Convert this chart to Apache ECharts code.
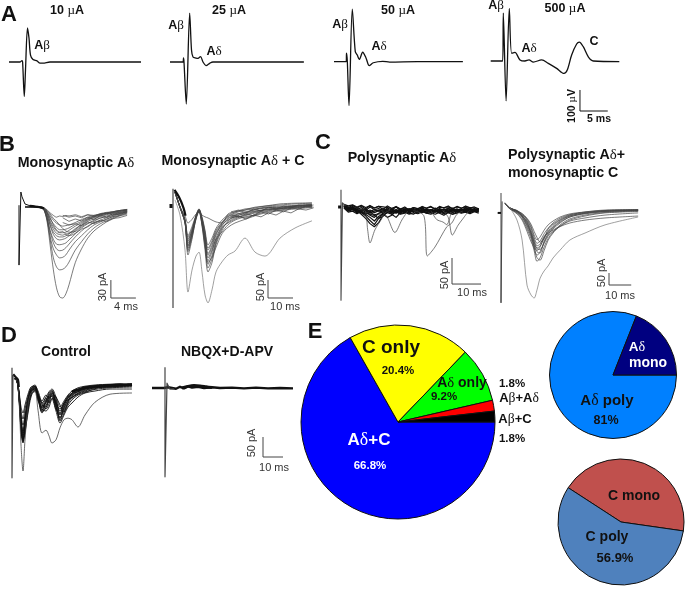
<!DOCTYPE html>
<html><head><meta charset="utf-8">
<style>html,body{margin:0;padding:0;background:#fff}#c{width:685px;height:589px;filter:blur(0.4px)}</style>
<script src="https://cdn.jsdelivr.net/npm/echarts@6/dist/echarts.min.js"></script>
</head><body><div id="c"></div>
<script>
// ---------- Panel A: single evoked field traces, [ms, uV]
const a10=[[0,0],[2,0],[2.34,7],[2.45,0],[2.75,-164],[2.97,-38],[3.33,162],[3.6,114],[3.87,33],[4.32,12],[5.04,5],[5.58,-5],[6.1,-5],[7.38,0],[23.76,0]];
const a25=[[0,0],[2.34,0],[2.43,19],[2.52,0],[2.93,-200],[3.54,233],[3.87,57],[4.14,24],[4.68,19],[5.04,17],[5.49,26],[5.94,0],[6.48,-17],[7.2,-5],[7.74,0],[24.1,0]];
const a50=[[0,0],[2.2,0],[2.25,41],[2.4,0],[2.7,-209],[3.29,250],[3.83,48],[4.19,32],[4.55,11],[5.17,45],[5.76,18],[6.35,-19],[7.07,-5],[8.77,2],[10,-2],[15,0],[23.2,0]];
const a500=[[0,0],[2.16,0],[2.27,228],[2.77,-190],[3.35,250],[3.77,37],[4.37,41],[5.27,5],[6.17,0],[6.89,5],[7.67,-5],[9.17,5],[10.37,-11],[11.87,-35],[13.19,-59],[13.78,-43],[14.57,29],[15.47,81],[15.95,90],[16.66,68],[17.57,20],[18.47,0],[23.15,-3]];

// ---------- Panel B left: monosynaptic A-delta, pA
const tMono=[1,2,3,3.5,4,4.5,5,5.5,6,6.5,7,7.5,8,9,10,11,12,13,14,15,16,17.3];
const mono=[
[0,0,0,-2,-5,-25,-65,-105,-135,-150,-152,-145,-130,-93,-70,-52,-40,-32,-25,-20,-15,-10],
[0,0,0,-1,-5,-22,-55,-85,-100,-105,-104,-100,-92,-72,-58,-45,-35,-28,-23,-18,-14,-10],
[1,0,0,-1,-4,-20,-50,-70,-80,-85,-84,-80,-72,-58,-48,-38,-30,-25,-20,-16,-12,-9],
[0,1,0,-1,-4,-18,-42,-60,-70,-73,-72,-68,-62,-50,-40,-32,-26,-22,-18,-14,-11,-8],
[0,0,-1,-2,-5,-20,-40,-54,-62,-63,-62,-60,-55,-45,-35,-28,-22,-19,-15,-12,-10,-7],
[1,0,0,0,-3,-15,-32,-46,-53,-55,-54,-52,-48,-40,-31,-24,-20,-16,-13,-10,-9,-6],
[0,0,0,-1,-4,-14,-30,-42,-48,-50,-50,-48,-45,-36,-30,-22,-18,-15,-12,-10,-8,-5],
[0,1,0,0,-2,-10,-24,-33,-40,-43,-43,-42,-39,-32,-26,-20,-16,-14,-11,-9,-7,-5],
[0,0,1,0,-2,-9,-20,-28,-34,-38,-38,-37,-35,-29,-24,-19,-15,-12,-10,-8,-6,-4],
[0,0,0,0,-2,-7,-15,-22,-27,-30,-32,-31,-30,-26,-21,-17,-14,-12,-10,-8,-6,-5],
[1,0,0,0,-1,-5,-10,-14,-17,-15,-16,-14,-15,-13,-16,-13,-14,-11,-9,-8,-6,-4],
[0,0,0,-1,-3,-11,-26,-37,-44,-46,-47,-45,-44,-38,-28,-21,-17,-13,-11,-9,-7,-5],
[0,0,0,0,-2,-6,-12,-19,-24,-30,-36,-40,-42,-41,-33,-27,-24,-18,-17,-14,-11,-8],
[1,0,0,-1,-3,-9,-18,-30,-38,-42,-41,-46,-48,-44,-37,-33,-26,-24,-21,-16,-15,-12]];
const tMonoTail=[7,8,9,10,11,12,13,14,15,16,17.3];
const monoTail=[
[-18,-24,-20,-23,-17,-21,-14,-17,-11,-13,-8],
[-14,-17,-15,-18,-13,-16,-12,-10,-13,-9,-7],
[-26,-30,-28,-31,-25,-28,-22,-24,-19,-18,-14]];
const monoBase=[[1.7,2],[3.2,0],[4,-2]];
const monoStim=[[0,3],[0,-97],[0.3,25],[0.48,17],[0.96,5],[1.76,2],[3.36,0]];

// ---------- Panel B right: monosynaptic A-delta + C, pA
const tMonoC=[1.6,3.6,5.6,6.8,8.4,10,11.2,12.4,13.6,14.8,16.4,18,20.4,22.8,25.6,29.6,33.6,37.6,43.6,49.6,56.4];
const monoC=[
[36,-6,-47,-111,-78,-33,-14,-47,-97,-147,-125,-92,-58,-39,-28,-19,-14,-8,-6,-3,0],
[36,-8,-50,-139,-95,-36,-17,-58,-125,-186,-160,-110,-70,-45,-30,-25,-18,-12,-8,-4,-2],
[34,-5,-42,-100,-70,-30,-11,-40,-85,-125,-105,-75,-50,-33,-25,-22,-12,-6,-3,-1,2],
[36,-6,-48,-125,-85,-38,-14,-50,-110,-165,-140,-100,-62,-50,-39,-28,-20,-14,-10,-6,-3],
[35,-4,-40,-85,-60,-28,-11,-33,-70,-111,-92,-65,-42,-28,-19,-11,-8,-3,0,3,5],
[36,-7,-45,-95,-72,-33,-17,-42,-90,-135,-112,-80,-55,-42,-33,-22,-17,-14,-11,-8,-6],
[36,-5,-50,-120,-80,-36,-14,-45,-100,-155,-130,-95,-75,-55,-42,-33,-28,-19,-14,-8,-4],
[35,-6,-44,-105,-75,-31,-14,-38,-78,-120,-100,-70,-48,-31,-22,-14,-6,-3,3,5,6],
[36,-6,-46,-115,-82,-35,-17,-52,-105,-175,-150,-105,-65,-48,-36,-30,-22,-17,-11,-6,-1],
[36,-6,-30,-50,-40,-25,-20,-28,-33,-36,-42,-47,-50,-25,-19,-14,-11,-8,-6,-3,0],
[36,-7,-48,-130,-90,-40,-19,-55,-115,-160,-145,-118,-80,-62,-50,-40,-30,-22,-16,-11,-7],
[35,-5,-41,-90,-66,-31,-13,-36,-75,-140,-118,-84,-52,-36,-30,-36,-26,-12,-10,-2,1]];
const tMonoCTail=[24,27,30,33,36,39,42,45,48,51,54,57];
const monoCTail=[
[-28,-33,-25,-30,-19,-25,-14,-19,-8,-12,-3,-6],
[-36,-31,-39,-28,-33,-22,-28,-17,-22,-11,-14,-8],
[-19,-14,-22,-11,-17,-6,-11,-3,-8,0,-3,0]];
const monoCDeep=[14,-28,-125,-242,-181,-142,-131,-186,-250,-272,-236,-186,-158,-139,-128,-92,-131,-142,-92,-64,-44];
const monoCStim=[[0.8,45],[0.8,-286]];
const monoCOnset=[[1.4,42],[3.2,22],[5,-8],[5.8,-30]];
const monoCBlob=[[0,3],[0,-8]];

// ---------- Panel C left: polysynaptic A-delta, pA
const tPoly=[1,2.5,4,5.5,7,8.5,10,11.5,13,14.5,16,17.5,19,20.5,22,23.5,25,26.5,28,29.5,31,32.5,34,35.5,37,38.5,40,41.5,43,44.5,46,47.5];
const poly=[
[4,-2,3,-4,1,-5,2,-3,-1,-6,0,-4,2,-5,-2,-6,-1,-4,1,-5,-3,-7,-1,-4,0,-6,-2,-5,1,-3,-1,-4],
[6,1,5,0,4,-2,5,0,3,-3,4,-1,3,-2,2,-4,1,-2,3,-1,2,-3,3,0,4,-2,2,-1,4,0,2,-2],
[1,-5,-2,-7,-3,-8,-4,-9,-5,-10,-6,-8,-4,-9,-6,-10,-5,-8,-4,-9,-6,-8,-5,-10,-4,-8,-6,-9,-3,-7,-5,-8],
[3,-3,1,-6,-9,-15,-24,-32,-20,-10,-5,-9,-3,-7,-2,-8,-4,-6,0,-8,-3,-6,-2,-9,-1,-5,-3,-7,0,-4,-6,-3],
[2,-1,-3,-5,-12,-20,-30,-36,-28,-14,-8,-6,-10,-4,-9,-5,-7,-3,-8,-2,-6,-4,-9,-3,-7,-2,-6,-4,-8,-1,-5,-3],
[5,0,2,-4,-8,-12,-18,-25,-16,-12,-18,-14,-6,-8,-3,-7,-5,-9,-2,-6,-4,-7,-3,-6,-8,-3,-5,-8,-2,-6,-3,-6],
[3,1,-2,-2,-6,-10,-12,-14,-20,-16,-8,-4,-7,-12,-10,-5,-3,-8,-6,-10,-12,-7,-4,-2,-6,-9,-4,-2,-6,-8,-4,-2],
[4,-4,0,-8,-2,-6,-14,-18,-10,-6,-3,-12,-18,-9,-4,-10,-12,-6,-4,-3,-8,-6,-10,-14,-8,-12,-10,-4,-7,-9,-6,-7],
[2,2,-1,0,-4,-2,-7,-3,-6,-1,-8,-2,-5,-3,-7,-1,-6,-2,-9,-3,-5,0,-7,-2,-4,0,-8,-3,-5,0,-6,-1],
[5,-6,-3,-9,-5,-3,-10,-6,-4,-8,-2,-7,-9,-3,-6,-9,-3,-7,-5,-2,-9,-4,-6,-3,-9,-5,-2,-7,-4,-8,-3,-5],
[7,4,6,2,5,1,4,0,3,2,1,-1,2,-2,0,-3,1,-1,2,0,3,-2,1,1,2,-1,3,0,2,1,0,-1],
[0,-8,-6,-11,-7,-12,-8,-13,-11,-12,-9,-12,-7,-11,-8,-12,-9,-11,-7,-10,-9,-12,-8,-11,-9,-12,-7,-10,-8,-11,-7,-10]];
const polyEvents=[
[[6,-3],[8.3,-5],[9.2,-42],[10,-67],[11.7,-42],[14,-21],[15,-10],[17,-4]],
[[25,-5],[28.6,-15],[29.8,-92],[32.4,-75],[36.5,-36],[38.2,-29],[40,-12],[42,-6]],
[[35,-4],[37,-18],[38.4,-52],[40.4,-33],[42,-21],[44,-6]],
[[14,-4],[16,-18],[18.6,-47],[21,-23],[23,-6]],
[[31,-5],[33,-22],[35.2,-27],[36.5,-32],[38,-8]]];
const polyStim=[[0,35],[0,-177],[0.5,10],[1.5,4]];
const polyBlob=[[-1,2],[0,2]];

// ---------- Panel C right: polysynaptic A-delta + monosynaptic C, pA
const tPolyC=[1.8,4,7.2,9.5,11.7,13.5,14.9,16.2,17.6,19.4,21.2,23.4,26.6,31,37.8,46.8,61.7];
const polyC=[
[33,13,0,-17,-46,-88,-129,-154,-146,-113,-88,-67,-42,-21,-8,0,4],
[33,10,-4,-25,-60,-100,-150,-185,-170,-130,-100,-75,-50,-25,-12,-3,2],
[33,12,2,-12,-38,-70,-110,-135,-125,-95,-72,-50,-30,-15,-6,2,5],
[34,10,-8,-33,-75,-115,-165,-210,-195,-150,-115,-88,-58,-33,-17,-6,0],
[33,13,0,-20,-50,-95,-140,-170,-175,-125,-95,-70,-46,-25,-10,-2,3],
[33,8,-6,-21,-42,-80,-120,-145,-138,-105,-92,-80,-63,-42,-29,-17,-8],
[33,12,2,-15,-33,-63,-100,-120,-108,-80,-58,-42,-25,-12,-4,2,5],
[34,13,0,-25,-67,-105,-146,-165,-150,-110,-84,-60,-38,-20,-9,-1,3],
[33,10,-2,-20,-55,-90,-130,-158,-160,-135,-105,-85,-65,-50,-38,-29,-21],
[33,11,-12,-38,-85,-128,-155,-195,-205,-165,-122,-92,-63,-38,-21,-8,-2],
[34,13,-2,-10,-30,-55,-85,-110,-130,-115,-75,-55,-35,-17,-4,4,6]];
const polyCDeep=[33,13,-38,-121,-309,-350,-363,-329,-280,-250,-229,-196,-163,-121,-92,-58,-25];
const polyCStim=[[0,75],[0,-383],[0.5,40]];
const polyCBlob=[[-1.5,-8],[0,-8]];

// ---------- Panel D left: control, pA
const tCtrl=[1,2.5,3.5,4.5,5.5,6.5,8,9.5,11.5,13,15,17,18.5,20,22,24,26,28,30,33,36.5,41.5,49,60];
const ctrl=[
[12,5,-30,-105,-142,-105,-55,-22,-12,-30,-68,-42,-32,-22,-55,-92,-62,-42,-32,-22,-15,-10,-8,-5],
[12,5,-35,-90,-120,-90,-48,-20,-15,-35,-60,-48,-30,-20,-45,-75,-55,-38,-28,-18,-12,-8,-5,-3],
[12,5,-25,-70,-90,-65,-35,-12,-5,-25,-50,-35,-22,-15,-35,-60,-45,-30,-20,-12,-8,-5,-3,-2],
[11,4,-40,-120,-150,-115,-60,-28,-18,-40,-75,-55,-45,-30,-62,-85,-70,-50,-38,-26,-20,-12,-10,-8],
[12,6,-20,-60,-75,-55,-28,-10,-8,-20,-45,-30,-38,-32,-50,-70,-50,-35,-25,-15,-10,-8,-5,-5],
[12,5,-28,-95,-135,-100,-50,-18,-10,-28,-55,-60,-40,-25,-40,-80,-65,-45,-35,-25,-18,-12,-10,-5],
[12,5,-32,-110,-145,-110,-62,-25,-14,-32,-70,-45,-25,-18,-58,-88,-58,-36,-30,-20,-14,-8,-6,-4],
[12,5,-30,-80,-105,-80,-40,-16,-8,-30,-62,-50,-34,-28,-48,-65,-50,-32,-26,-22,-16,-10,-6,-3],
[12,5,-35,-100,-130,-95,-50,-22,-12,-35,-65,-70,-60,-40,-70,-100,-80,-60,-50,-35,-25,-20,-15,-15],
[12,5,-38,-115,-148,-120,-75,-35,-16,-28,-50,-65,-52,-26,-35,-55,-72,-55,-42,-30,-24,-14,-9,-6],
[12,6,-24,-85,-125,-85,-42,-15,-9,-45,-58,-38,-50,-38,-52,-95,-75,-48,-24,-16,-11,-7,-7,-4],
[12,5,-33,-100,-140,-125,-68,-30,-20,-38,-72,-62,-36,-34,-66,-78,-50,-42,-36,-28,-22,-16,-12,-10]];
const ctrlDeep=[12,5,-42,-155,-220,-142,-55,-25,-22,-68,-125,-118,-132,-150,-142,-112,-92,-88,-92,-110,-80,-48,-28,-25];
const ctrlBand=[[30,-22],[32,-18],[34,-16],[36,-12],[39,-10],[42,-8],[45,-7],[48,-6],[51,-5],[54,-4],[57,-5],[60,-4]];
const ctrlOnset=[[0.6,22],[2,14],[3,8],[3.4,-10]];
const ctrlStim=[[0,38],[0,-237],[0.5,20]];

// ---------- Panel D right: NBQX + D-APV, pA
const blocked=[[0,0],[6,0],[6.4,-2],[7,0],[8,2],[10,0],[12,-2],[14,3],[16,-1],[18,4],[20,1],[23,3],[26,0],[30,2],[34,0],[40,1],[46,-1],[52,1],[58,-1],[64,0],[70.5,-1]];
const blockedBump=[[15,0],[18,4],[21,6],[24,5],[27,3],[30,1]];
const blockedStim=[[6.5,52],[6.5,-222],[7.5,12],[9,-3],[11,-2]];

// ---------- Scale bars in each panel's own units
const barA=[[16.07,-138],[16.07,-238],[21.07,-238]];
const barB1=[[14.7,-122],[14.7,-152],[18.7,-152]];
const barB2=[[38.8,-208.5],[38.8,-258.5],[48.8,-258.5]];
const barC1=[[38.3,-96],[38.3,-146],[48.3,-146]];
const barC2=[[48.6,-258.6],[48.6,-308.6],[58.6,-308.6]];
const barD=[[55.5,-122.5],[55.5,-172.5],[65.5,-172.5]];

// ---------- Pies
const pieAllNames=['A\u03b4+C','C only','A\u03b4 only','A\u03b2+A\u03b4','A\u03b2+C'];
const pieAllValues=[66.8,20.4,9.2,1.8,1.8];
const pieDeltaNames=['A\u03b4 poly','A\u03b4 mono'];
const pieDeltaValues=[81,19];
const pieCNames=['C mono','C poly'];
const pieCValues=[43.1,56.9];

// ---------- Layout (not data)
const panels=[
 {l:5,t:0,r:150,b:125,x0:9,y0:62,sx:.18,sy:4.76},
 {l:165,t:0,r:310,b:125,x0:170,y0:62,sx:.18,sy:4.76},
 {l:325,t:0,r:470,b:125,x0:334,y0:61.7,sx:.18,sy:4.76},
 {l:485,t:0,r:630,b:125,x0:490.7,y0:61,sx:.18,sy:4.76},
 {l:10,t:180,r:150,b:315,x0:19,y0:207,sx:.16,sy:1.67},
 {l:165,t:180,r:315,b:315,x0:171,y0:205,sx:.4,sy:2.78},
 {l:335,t:180,r:490,b:315,x0:341,y0:208,sx:.345,sy:1.92},
 {l:495,t:180,r:645,b:315,x0:501,y0:211,sx:.45,sy:4.17},
 {l:5,t:360,r:140,b:485,x0:12,y0:383,sx:.5,sy:2.5},
 {l:145,t:360,r:300,b:485,x0:152,y0:388,sx:.5,sy:2.5}];
const grid=[],xAxis=[],yAxis=[],series=[];
panels.forEach(p=>{
 grid.push({left:p.l,top:p.t,width:p.r-p.l,height:p.b-p.t,containLabel:false});
 xAxis.push({type:'value',show:false,gridIndex:grid.length-1,min:(p.l-p.x0)*p.sx,max:(p.r-p.x0)*p.sx});
 yAxis.push({type:'value',show:false,gridIndex:grid.length-1,max:(p.y0-p.t)*p.sy,min:(p.y0-p.b)*p.sy});
});
function line(i,data,w,col,sm){
 series.push({type:'line',xAxisIndex:i,yAxisIndex:i,data,showSymbol:false,symbol:'none',silent:true,clip:false,z:2,
   animation:false,smooth:sm?.3:false,lineStyle:{width:w,color:col,join:'round'}});
}
const zip=(t,v)=>t.map((x,i)=>[x,v[i]]);
const BLK='#111',GRY='#444',LGT='#777';
line(0,a10,1.3,BLK,1);line(1,a25,1.3,BLK,1);line(2,a50,1.3,BLK,1);line(3,a500,1.3,BLK,1);line(3,barA,1,BLK);
mono.forEach(v=>line(4,zip(tMono,v),.7,GRY,1));monoTail.forEach(v=>line(4,zip(tMonoTail,v),.7,GRY));
line(4,monoBase,2.2,BLK,1);line(4,monoStim,1,BLK);line(4,barB1,1,GRY);
monoC.forEach(v=>line(5,zip(tMonoC,v),.7,GRY,1));monoCTail.forEach(v=>line(5,zip(tMonoCTail,v),.7,GRY));
line(5,zip(tMonoC,monoCDeep),.7,LGT,1);line(5,monoCStim,1.2,GRY);line(5,monoCOnset,2.2,BLK,1);line(5,monoCBlob,3,BLK);line(5,barB2,1,GRY);
poly.forEach(v=>line(6,zip(tPoly,v),1.2,BLK));polyEvents.forEach(e=>line(6,e,.7,GRY,1));line(6,polyStim,1.1,GRY);line(6,polyBlob,3,BLK);line(6,barC1,1,GRY);
polyC.forEach(v=>line(7,zip(tPolyC,v),.7,GRY,1));line(7,zip(tPolyC,polyCDeep),.7,LGT,1);line(7,polyCStim,1,GRY);line(7,polyCBlob,2,BLK);line(7,barC2,1,GRY);
ctrl.forEach(v=>line(8,zip(tCtrl,v),.9,BLK,1));line(8,zip(tCtrl,ctrlDeep),.8,GRY,1);line(8,ctrlBand,2.6,BLK,1);line(8,ctrlOnset,2.2,BLK,1);line(8,ctrlStim,1.2,GRY);
line(9,blocked,2.4,BLK);line(9,blockedBump,3,BLK,1);line(9,blockedStim,1.2,GRY);line(9,barD,1,GRY);

function pie(names,values,colors,center,r,start){
 series.push({type:'pie',center,radius:r,startAngle:start,clockwise:true,silent:true,animation:false,
  label:{show:false},labelLine:{show:false},
  itemStyle:{borderColor:'#101010',borderWidth:1},
  data:names.map((n,i)=>({name:n,value:values[i],itemStyle:{color:colors[i]}}))});
}
pie(pieAllNames,pieAllValues,['#0000ff','#ffff00','#00ff00','#ff0000','#000000'],[398,422],97,0);
pie(pieDeltaNames,pieDeltaValues,['#0080ff','#000080'],[613,375],63.5,0);
pie(pieCNames,pieCValues,['#c0504d','#4f81bd'],[621,522],63,147);

// ---------- Text
const SANS='"Liberation Sans",Arial,sans-serif',SERIF='"Liberation Serif",serif';
function T(x,y,s,size,o){
 o=o||{};const fill=o.fill||'#111',weight=o.normal?'normal':'bold';
 return {type:'text',x,y,rotation:o.rot||0,z:100,silent:true,style:{
  text:s.replace(/[\u03b2\u03b4\u00b5]/g,m=>'{g|'+m+'}'),
  fill,fontFamily:SANS,fontSize:size,fontWeight:weight,align:o.align||'center',verticalAlign:'middle',
  rich:{g:{fontFamily:SERIF,fontSize:size*1.05,fontWeight:'normal',fill}}}};
}
const W={fill:'#fff'},N={normal:true,fill:'#333'};
const texts=[
 T(9,15,'A',22),T(7,145,'B',22),T(323,143,'C',22),T(9,336,'D',22),T(315,332,'E',22),
 T(67,11,'10 \u00b5A',12.5),T(229,11,'25 \u00b5A',12.5),T(398,11,'50 \u00b5A',12.5),T(565,9,'500 \u00b5A',12.5),
 T(42,46,'A\u03b2',12.5),T(176,26,'A\u03b2',12.5),T(214,52,'A\u03b4',12.5),T(340,25,'A\u03b2',12.5),T(379,47,'A\u03b4',12.5),
 T(496,6,'A\u03b2',12.5),T(529,49,'A\u03b4',12.5),T(594,42,'C',12.5),
 T(572,106,'100 \u00b5V',10.5,{rot:Math.PI/2}),T(599,119,'5 ms',10.5),
 T(76,163,'Monosynaptic A\u03b4',14.2),T(233,161,'Monosynaptic A\u03b4 + C',14.2),T(402,158,'Polysynaptic A\u03b4',14.2),
 T(508,155,'Polysynaptic A\u03b4+',14.2,{align:'left'}),T(508,173,'monosynaptic C',14.2,{align:'left'}),
 T(66,352,'Control',14),T(227,352,'NBQX+D-APV',14),
 T(103,287,'30 pA',11,{...N,rot:Math.PI/2}),T(126,307,'4 ms',11,N),
 T(261,287,'50 pA',11,{...N,rot:Math.PI/2}),T(285,307,'10 ms',11,N),
 T(445,275,'50 pA',11,{...N,rot:Math.PI/2}),T(472,293,'10 ms',11,N),
 T(602,273,'50 pA',11,{...N,rot:Math.PI/2}),T(620,296,'10 ms',11,N),
 T(252,443,'50 pA',11,{...N,rot:Math.PI/2}),T(274,468,'10 ms',11,N),
 T(391,348,'C only',19),T(398,371,'20.4%',11.5),T(462,383,'A\u03b4 only',14),T(444,397,'9.2%',11.5),
 T(512,384,'1.8%',11.5),T(519,398,'A\u03b2+A\u03b4',13),T(515,419,'A\u03b2+C',13),T(512,439,'1.8%',11.5),
 T(369,440,'A\u03b4+C',17,W),T(370,466,'66.8%',11.5,W),
 T(637,347,'A\u03b4',13.5,W),T(648,363,'mono',14,W),T(607,401,'A\u03b4 poly',15),T(606,421,'81%',12.5),
 T(634,496,'C mono',14),T(607,537,'C poly',14),T(615,558,'56.9%',13)];

const chart=echarts.init(document.getElementById('c'),null,{width:685,height:589,renderer:'canvas'});
chart.setOption({animation:false,backgroundColor:'#fff',grid,xAxis,yAxis,series,graphic:{elements:texts}});
</script></body></html>
